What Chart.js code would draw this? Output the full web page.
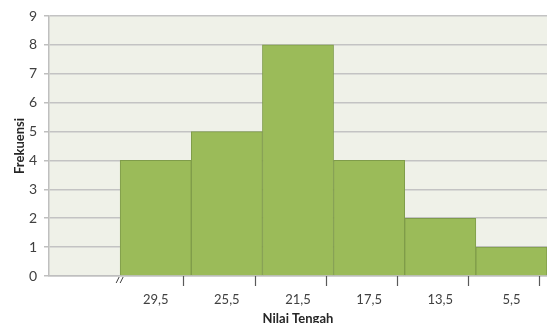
<!DOCTYPE html>
<html>
<head>
<meta charset="utf-8">
<script src="https://cdn.jsdelivr.net/npm/chart.js@4.4.1/dist/chart.umd.min.js"></script>
<style>
  html, body { margin: 0; padding: 0; background: #ffffff; }
  #wrap { width: 547px; height: 323px; }
</style>
</head>
<body>
<div id="wrap"><canvas id="c" width="547" height="323"></canvas></div>
<script>
// Class midpoints (first slot left empty for the axis break) and frequencies
const categories = ["", "29,5", "25,5", "21,5", "17,5", "13,5", "5,5"];
const frequencies = [null, 4, 5, 8, 4, 2, 1];
const yTicks = [0, 1, 2, 3, 4, 5, 6, 7, 8, 9];

const FONT = "Lato, 'Open Sans', sans-serif";

// Plot background, x tick marks and the "//" axis break
const decor = {
  id: 'decor',
  beforeDraw(chart) {
    const { ctx, chartArea: a } = chart;
    ctx.save();
    ctx.fillStyle = '#EFF1E8';
    ctx.fillRect(a.left, a.top, a.right - a.left, a.bottom - a.top);
    ctx.restore();
  },
  afterDraw(chart) {
    const { ctx, chartArea: a, scales } = chart;
    const x = scales.x;
    const w = x.getPixelForValue(1) - x.getPixelForValue(0);
    ctx.save();
    ctx.strokeStyle = '#595959';
    ctx.lineWidth = 1.2;
    for (let i = 1; i < categories.length; i++) {
      const px = Math.round(x.getPixelForValue(i) + w * 0.39) + 0.5;
      ctx.beginPath();
      ctx.moveTo(px, a.bottom);
      ctx.lineTo(px, a.bottom + 10);
      ctx.stroke();
    }
    // axis break marks at the start of the first class
    const bx = x.getPixelForValue(1) - w / 2;
    ctx.lineWidth = 1;
    ctx.strokeStyle = '#404040';
    [-3, 1].forEach(d => {
      ctx.beginPath();
      ctx.moveTo(bx + d - 1, a.bottom + 7);
      ctx.lineTo(bx + d + 2, a.bottom + 1);
      ctx.stroke();
    });
    ctx.restore();
  }
};

new Chart(document.getElementById('c'), {
  type: 'bar',
  data: {
    labels: categories,
    datasets: [{
      data: frequencies,
      backgroundColor: '#9BBB59',
      borderColor: '#7F9C4A',
      borderWidth: 1,
      categoryPercentage: 1.0,
      barPercentage: 1.0
    }]
  },
  options: {
    responsive: false,
    animation: false,
    events: [],
    layout: { padding: { left: 8, right: 0, top: 16, bottom: 0 } },
    plugins: { legend: { display: false }, tooltip: { enabled: false } },
    scales: {
      x: {
        grid: { display: false },
        border: { display: true, color: '#BFBFBF', width: 1.5 },
        ticks: { color: '#404040', font: { family: FONT, size: 13 }, padding: 8, maxRotation: 0, autoSkip: false },
        title: { display: true, text: 'Nilai Tengah', color: '#262626', font: { family: FONT, size: 13, weight: 'bold' }, padding: { top: 4, bottom: -4 } },
        afterFit(s) { s.height = 47; }
      },
      y: {
        min: 0,
        max: 9,
        afterBuildTicks(s) { s.ticks = yTicks.map(v => ({ value: v })); },
        grid: { color: '#C3C3C3', lineWidth: 1.5, tickLength: 5, tickColor: '#BFBFBF' },
        border: { display: true, color: '#BFBFBF', width: 1.5 },
        ticks: { color: '#404040', font: { family: FONT, size: 14 }, padding: 7 },
        title: { display: true, text: 'Frekuensi', color: '#262626', font: { family: FONT, size: 13, weight: 'bold' }, padding: 4 },
        afterFit(s) { s.width = 41; }
      }
    }
  },
  plugins: [decor]
});
</script>
</body>
</html>
